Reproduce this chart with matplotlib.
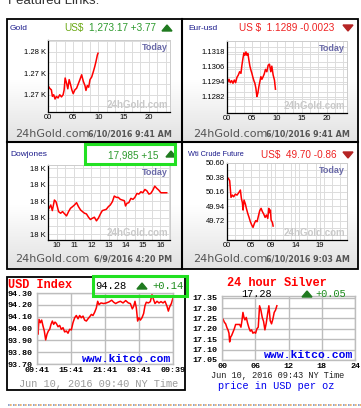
import numpy as np
import matplotlib
matplotlib.use("Agg")
import matplotlib.pyplot as plt
from matplotlib.ticker import MultipleLocator
from matplotlib.colors import LinearSegmentedColormap
from matplotlib.patches import Rectangle, Polygon

# ---- data ----
gold_hours = [0, 0.33, 0.67, 0.87, 1.13, 1.4, 1.67, 2.0, 2.33, 2.67, 3.0, 3.2, 3.4, 3.67, 3.93,
              4.2, 4.47, 4.73, 5.0, 5.33, 5.67, 6.0, 6.33, 6.67, 7.0, 7.33, 7.53, 7.8, 8.07,
              8.33, 8.67, 9.0, 9.27, 9.53, 9.8, 9.93]
gold_price = [1269.7, 1269.2, 1268.9, 1267.7, 1268.0, 1267.2, 1267.7, 1267.4, 1268.0, 1267.6,
              1268.0, 1268.9, 1271.1, 1270.2, 1269.1, 1270.8, 1269.9, 1268.9, 1268.2, 1268.9,
              1269.2, 1270.0, 1270.8, 1271.7, 1270.5, 1269.7, 1268.8, 1269.7, 1269.4, 1270.8,
              1271.3, 1272.3, 1273.2, 1274.2, 1275.4, 1275.7]

eur_hours = [0, 0.2, 0.4, 0.67, 0.93, 1.2, 1.47, 1.73, 2.0, 2.27, 2.53, 2.8, 3.0, 3.2, 3.4, 3.6,
             3.8, 4.0, 4.2, 4.4, 4.6, 4.8, 5.0, 5.2, 5.4, 5.6, 5.8, 6.0, 6.2, 6.4, 6.6, 6.8,
             7.0, 7.2, 7.47, 7.73, 8.0, 8.27, 8.53, 8.8, 9.0, 9.27, 9.53, 9.73]
eur_rate = [1.12953, 1.12940, 1.12959, 1.12932, 1.12948, 1.12927, 1.12953, 1.12932, 1.12975,
            1.12993, 1.13020, 1.13007, 1.13073, 1.13127, 1.13172, 1.13153, 1.13180, 1.13153,
            1.13167, 1.13113, 1.13065, 1.13033, 1.13007, 1.12975, 1.12948, 1.12927, 1.12887,
            1.12820, 1.12847, 1.12900, 1.12940, 1.12980, 1.12959, 1.12975, 1.13001, 1.13039,
            1.13020, 1.13073, 1.13081, 1.13020, 1.13065, 1.12993, 1.12953, 1.12879]

dow_hours = [9.56, 9.66, 9.75, 9.87, 9.96, 10.04, 10.11, 10.23, 10.34, 10.46, 10.57, 10.69,
             10.8, 10.92, 11.03, 11.15, 11.26, 11.38, 11.49, 11.61, 11.72, 11.84, 11.95, 12.07,
             12.18, 12.3, 12.41, 12.53, 12.64, 12.76, 12.87, 12.99, 13.1, 13.22, 13.33, 13.45,
             13.56, 13.68, 13.79, 13.91, 13.98, 14.06, 14.17, 14.29, 14.41, 14.52, 14.64, 14.75,
             14.87, 14.98, 15.1, 15.21, 15.33, 15.44, 15.56, 15.67, 15.79, 15.9, 16.02, 16.17,
             16.36]
dow_index = [17929, 17939, 17922, 17954, 17949, 17934, 17919, 17914, 17919, 17912, 17906, 17919,
             17929, 17934, 17939, 17946, 17934, 17924, 17919, 17914, 17912, 17902, 17895, 17899,
             17902, 17891, 17899, 17912, 17922, 17924, 17926, 17934, 17939, 17949, 17966, 17962,
             17962, 17956, 17954, 17952, 17936, 17944, 17946, 17959, 17956, 17962, 17974, 17972,
             17979, 17976, 17986, 17982, 17972, 17974, 17984, 17996, 17989, 17984, 17976, 17976,
             17976]

wti_hours = [0, 0.27, 0.55, 0.68, 0.82, 1.1, 1.37, 1.71, 2.05, 2.4, 2.74, 2.95, 3.15, 3.29, 3.49,
             3.77, 3.97, 4.25, 4.52, 4.79, 5.07, 5.34, 5.62, 5.89, 6.16, 6.44, 6.71, 6.99, 7.26,
             7.53, 7.81, 8.08, 8.36, 8.56, 8.77, 8.9, 9.04, 9.32, 9.45]
wti_price = [50.38, 50.365, 50.33, 50.21, 50.075, 50.11, 50.085, 50.125, 50.11, 50.146, 50.187,
             50.06, 49.994, 49.882, 50.035, 49.974, 49.908, 49.831, 49.77, 49.704, 49.654,
             49.618, 49.679, 49.72, 49.704, 49.79, 49.872, 49.908, 49.857, 49.821, 49.77, 49.806,
             49.755, 49.908, 49.842, 49.882, 49.73, 49.69, 49.638]

usdx_hours = [0, 0.18, 0.35, 0.59, 0.82, 1.06, 1.29, 1.53, 1.76, 2.0, 2.24, 2.47, 2.71, 2.94,
              3.18, 3.41, 3.71, 4.0, 4.29, 4.59, 4.88, 5.18, 5.47, 5.76, 6.06, 6.35, 6.65, 6.94,
              7.24, 7.53, 7.82, 8.12, 8.41, 8.71, 9.0, 9.29, 9.59, 9.88, 10.18, 10.47, 10.71,
              10.94, 11.29, 11.76, 12.24, 12.71, 13.18, 13.53, 13.88, 14.29, 14.71, 15.18, 15.65,
              16.12, 16.47, 16.82, 17.06, 17.29, 17.53, 17.76, 18.0, 18.24, 18.53, 18.82, 19.06,
              19.29, 19.65, 20.0, 20.29, 20.53, 20.82, 21.18, 21.53, 21.88, 22.24, 22.59, 22.94,
              23.18, 23.41, 23.71, 24.0]
usdx_value = [93.971, 93.951, 94.077, 94.049, 94.071, 94.021, 93.979, 93.904, 93.951, 93.979,
              93.993, 94.035, 94.063, 94.035, 94.054, 94.043, 94.015, 94.026, 93.993, 94.007,
              93.971, 93.979, 93.96, 93.993, 93.988, 94.049, 94.091, 94.11, 94.082, 94.11,
              94.091, 94.105, 94.071, 94.063, 94.082, 94.099, 94.119, 94.11, 94.138, 94.174,
              94.23, 94.202, 94.216, 94.211, 94.216, 94.225, 94.239, 94.222, 94.211, 94.222,
              94.23, 94.216, 94.236, 94.216, 94.211, 94.166, 94.188, 94.23, 94.174, 94.063,
              94.091, 94.071, 94.091, 94.127, 94.194, 94.222, 94.216, 94.227, 94.286, 94.25,
              94.211, 94.23, 94.216, 94.227, 94.216, 94.23, 94.188, 94.147, 94.183, 94.211,
              94.258]

silver_hours = [0, 0.18, 0.42, 0.66, 0.9, 1.08, 1.26, 1.38, 1.56, 1.74, 1.98, 2.22, 2.46, 2.82,
                3.18, 3.42, 3.6, 3.78, 3.96, 4.14, 4.38, 4.62, 4.86, 5.1, 5.34, 5.58, 5.82, 6.06,
                6.3, 6.54, 6.78, 7.02, 7.26, 7.5, 7.74, 7.98, 8.22, 8.46, 8.7, 8.94, 9.18, 9.42,
                9.66, 9.9]
silver_price = [17.239, 17.247, 17.232, 17.224, 17.205, 17.195, 17.179, 17.137, 17.161, 17.168,
                17.184, 17.2, 17.221, 17.221, 17.221, 17.208, 17.239, 17.279, 17.255, 17.243,
                17.255, 17.227, 17.205, 17.189, 17.195, 17.179, 17.184, 17.179, 17.2, 17.208,
                17.311, 17.29, 17.255, 17.236, 17.195, 17.227, 17.271, 17.311, 17.239, 17.224,
                17.247, 17.279, 17.29, 17.311]

gold_yticks = [1268, 1272, 1276]
eur_yticks = [1.1282, 1.1294, 1.1306, 1.1318]
dow_yticks = [17850, 17900, 17950, 18000, 18050]
wti_yticks = [49.72, 49.94, 50.16, 50.38, 50.60]
usdx_yticks = [93.7, 93.8, 93.9, 94.0, 94.1, 94.2, 94.3]
silver_yticks = [17.05, 17.10, 17.15, 17.20, 17.25, 17.30, 17.35]
usdx_xlabels = ["09:41", "15:41", "21:41", "03:41", "09:39"]
silver_xlabels = ["00", "06", "12", "18", "24"]

W, H = 361, 408
fig = plt.figure(figsize=(W / 100, H / 100), dpi=100)
fig.patch.set_facecolor("white")

def rect(x0, y0, x1, y1):
    return [x0 / W, 1 - y1 / H, (x1 - x0) / W, (y1 - y0) / H]

bg = fig.add_axes([0, 0, 1, 1], zorder=0)
fg = fig.add_axes([0, 0, 1, 1], zorder=10)
for a in (bg, fg):
    a.set_axis_off()
fg.patch.set_alpha(0)

SANS = "Liberation Sans"
MONO = "Liberation Mono"
NAVY = "#1c1c8c"
GREEN = "#2e9a2e"
RED = "#ee2222"

fg.text(8, 4, "Featured Links:", fontsize=9.5, color="#333333", family=SANS, va="baseline")

# gradient backgrounds of the four 24hGold panels
grad_cmap = LinearSegmentedColormap.from_list("g", ["#ffffff", "#ffffff", "#e2e2e2"])
grad = np.linspace(0, 1, 64).reshape(-1, 1)
for (x0, y0, x1, y1) in [(7, 19, 182, 142), (182, 19, 358, 142), (7, 142, 182, 269), (182, 142, 358, 269)]:
    bg.imshow(grad, extent=(x0, x1, y1, y0), cmap=grad_cmap, aspect="auto", origin="upper")

def tri(x, y, up, color):
    if up:
        pts = [[x - 5, y + 3], [x + 5, y + 3], [x, y - 3]]
    else:
        pts = [[x - 5, y - 3], [x + 5, y - 3], [x, y + 3]]
    fg.add_patch(Polygon(pts, closed=True, color=color))

def gold_chart(box, hours, vals, xlim, ylim, xticks, xlabels, xminor, yticks, ylabels, yminor):
    ax = fig.add_axes(rect(*box), zorder=5)
    ax.plot(hours, vals, color="#ff0000", lw=1.1)
    ax.set_xlim(*xlim)
    ax.set_ylim(*ylim)
    ax.set_xticks(xticks, labels=xlabels)
    ax.set_yticks(yticks, labels=ylabels)
    ax.xaxis.set_minor_locator(MultipleLocator(xminor))
    ax.yaxis.set_minor_locator(MultipleLocator(yminor))
    ax.grid(True, which="both", color="#dcdcdc", lw=0.7)
    ax.set_axisbelow(True)
    ax.tick_params(which="both", length=0, labelsize=5.5, pad=1.5)
    for lab in ax.get_xticklabels() + ax.get_yticklabels():
        lab.set_family(SANS)
    for s in ("top", "right"):
        ax.spines[s].set_color("#cccccc")
        ax.spines[s].set_linewidth(0.7)
    for s in ("left", "bottom"):
        ax.spines[s].set_color("black")
        ax.spines[s].set_linewidth(0.9)
    ax.text(0.985, 0.96, "Today", transform=ax.transAxes, ha="right", va="top",
            fontsize=6.5, weight="bold", color="#6a6aa8", family=SANS)
    ax.text(0.985, 0.03, "24hGold.com", transform=ax.transAxes, ha="right", va="bottom",
            fontsize=7, weight="bold", color="#c9c9c9", family=SANS)
    return ax

def footer(x, y, date):
    fg.text(x, y, "24hGold.com", fontsize=8, color="#555555", family="DejaVu Sans", va="center")
    fg.text(x + 157, y, date, fontsize=5.8, color="#555555", family="DejaVu Sans",
            weight="bold", va="center", ha="right")

# Gold
fg.text(10, 28, "Gold", fontsize=6, color=NAVY, family=SANS, va="center")
fg.text(64, 28, "US$", fontsize=7.2, color="#6aa814", family=SANS, va="center")
fg.text(89, 28, "1,273.17 +3.77", fontsize=7.2, color=GREEN, family=SANS, va="center")
tri(167, 28, True, "#1f7a1f")
gold_chart((48, 40, 170, 112), gold_hours, gold_price, (0, 24.2), (1264.8, 1278.15),
           [0, 5, 10, 15, 20], ["00", "05", "10", "15", "20"], 5 / 3,
           gold_yticks, [f"{v / 1000:.2f} K" for v in gold_yticks], 2)
footer(15, 134, "6/10/2016 9:41 AM")

# Eur-usd
fg.text(188, 28, "Eur-usd", fontsize=6, color=NAVY, family=SANS, va="center")
fg.text(239, 28, "US $  1.1289 -0.0023", fontsize=7.2, color=RED, family=SANS, va="center")
tri(348, 28, False, "#b52424")
gold_chart((227, 41, 347, 113), eur_hours, eur_rate, (0, 24.1), (1.12687, 1.13268),
           [0, 5, 10, 15, 20], ["00", "05", "10", "15", "20"], 5 / 3,
           eur_yticks, [f"{v:.4f}" for v in eur_yticks], 0.0006)
footer(193, 134, "6/10/2016 9:41 AM")

# Dowjones
fg.text(10, 155, "Dowjones", fontsize=6, color=NAVY, family=SANS, va="center")
fg.text(108, 155, "17,985 +15", fontsize=7.2, color=GREEN, family=SANS, va="center")
tri(171, 154, True, "#1f7a1f")
fg.add_patch(Rectangle((85, 143.5), 90, 20, fill=False, ec="#22e022", lw=2.2))
gold_chart((48, 165, 170, 240), dow_hours, dow_index, (9.5, 16.55), (17833, 18060),
           [10, 11, 12, 13, 14, 15, 16], ["10", "11", "12", "13", "14", "15", "16"], 0.5,
           dow_yticks, [f"{v / 1000:.0f} K" for v in dow_yticks], 25)
footer(15, 259, "6/9/2016 4:20 PM")

# WTI
fg.text(188, 155, "Wti Crude Future", fontsize=5.3, color=NAVY, family=SANS, va="center")
fg.text(261, 155, "US$  49.70 -0.86", fontsize=7.2, color=RED, family=SANS, va="center")
tri(348, 155, False, "#b52424")
gold_chart((227, 163, 347, 240), wti_hours, wti_price, (0, 24.6), (49.425, 50.60),
           [0, 5, 9, 14, 19], ["00", "05", "09", "14", "19"], 1.65,
           wti_yticks, [f"{v:.2f}" for v in wti_yticks], 0.11)
footer(193, 259, "6/10/2016 9:03 AM")

# panel borders
fg.add_patch(Rectangle((7, 19), 351, 250, fill=False, ec="black", lw=1.3))
fg.plot([182, 182], [19, 269], color="black", lw=1.5)
fg.plot([7, 358], [142, 142], color="black", lw=1.5)

def kitco_chart(box, hours, vals, xlim, ylim, xticks, xlabels, yticks, ypad):
    ax = fig.add_axes(rect(*box), zorder=5)
    ax.plot(hours, vals, color="#ff0000", lw=1.1)
    ax.set_xlim(*xlim)
    ax.set_ylim(*ylim)
    ax.set_xticks(xticks, labels=xlabels)
    ax.set_yticks(yticks, labels=[f"{v:.2f}" for v in yticks])
    ax.grid(True, color="#bdbdbd", lw=1.0)
    ax.set_axisbelow(True)
    ax.tick_params(length=0, labelsize=6.0, pad=2.5)
    ax.tick_params(axis="y", pad=ypad)
    for lab in ax.get_xticklabels():
        lab.set_family(MONO)
        lab.set_weight("bold")
    for lab in ax.get_yticklabels():
        lab.set_family(MONO)
        lab.set_weight("bold")
        lab.set_horizontalalignment("left")
    for s in ax.spines.values():
        s.set_color("#bdbdbd")
        s.set_linewidth(1.0)
    ax.text(0.99, 0.0, "www.kitco.com", transform=ax.transAxes, ha="right", va="bottom",
            fontsize=8.2, weight="bold", color="#0000ee", family=MONO)
    return ax

# USD Index
fg.add_patch(Rectangle((7, 277), 178, 113, fill=False, ec="black", lw=1.3))
fg.text(8, 285, "USD Index", fontsize=8.6, weight="bold", color="#ff0000", family=MONO, va="center")
fg.text(95, 286, "94.28", fontsize=7.6, color="black", family=MONO, va="center")
tri(142, 286, True, "#1f7a1f")
fg.text(152, 286, "+0.14", fontsize=7.6, color="#1c8c1c", family=MONO, va="center")
fg.add_patch(Rectangle((93, 276), 94, 20, fill=False, ec="#22e022", lw=2.2))
kitco_chart((37, 293, 173, 364), usdx_hours, usdx_value, (0, 24), (93.70, 94.30),
            [0, 6, 12, 18, 24], usdx_xlabels, usdx_yticks, 21)
fg.text(19, 384, "Jun 10, 2016 09:40 NY Time", fontsize=7.4, color="#9a9a9a", family=MONO, va="center")

# 24 hour Silver
fg.text(277, 283, "24 hour Silver", fontsize=8.6, weight="bold", color="#ff0000", family=MONO,
        va="center", ha="center")
fg.text(241, 294, "17.28", fontsize=7.4, color="black", family=MONO, va="center")
tri(307, 294, True, "#1f7a1f")
fg.text(315, 294, "+0.05", fontsize=7.4, color="#1c8c1c", family=MONO, va="center")
kitco_chart((222, 296, 355, 360), silver_hours, silver_price, (0, 24), (17.05, 17.358),
            [0, 6, 12, 18, 24], silver_xlabels, silver_yticks, 21)
fg.text(278, 376, "Jun 10, 2016 09:43 NY Time", fontsize=6.2, color="#222222", family=MONO,
        va="center", ha="center")
fg.text(276, 386, "price in USD per oz", fontsize=7.4, color="#0000ee", family=MONO,
        va="center", ha="center")

# dotted rule at the bottom
fg.plot([8, 361], [405, 405], color="#7f93c0", lw=1.2, dashes=(1, 2))
fg.plot([9.5, 361], [405, 405], color="#e8a860", lw=1.2, dashes=(1, 2))

for a in (bg, fg):
    a.set_xlim(0, W)
    a.set_ylim(H, 0)

fig.savefig("out.png", dpi=100)
